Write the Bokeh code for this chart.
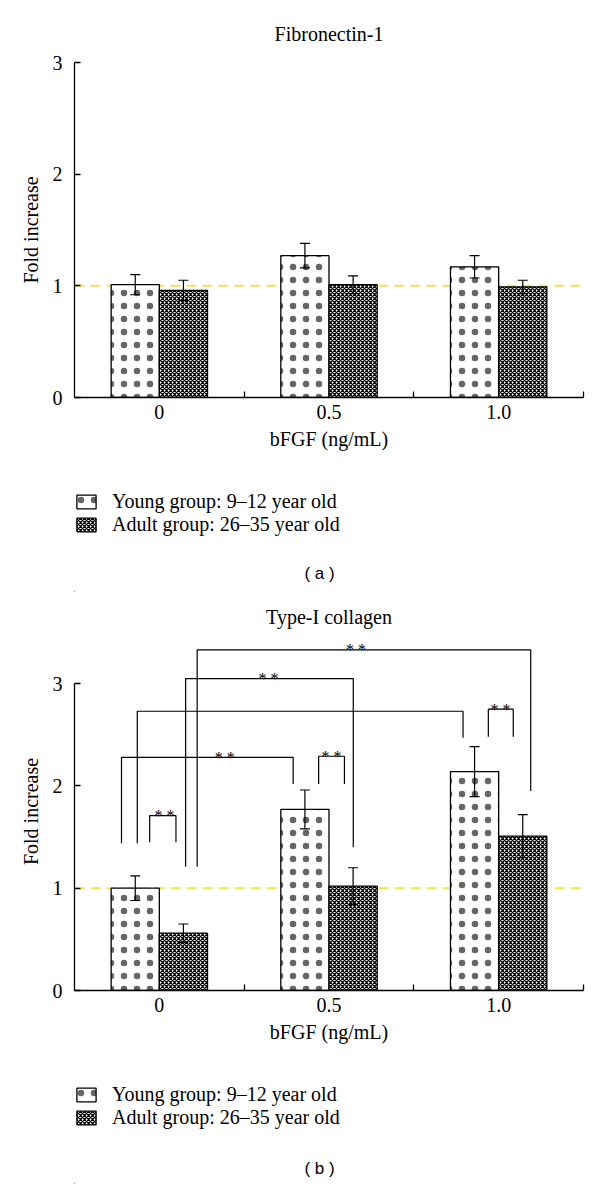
from bokeh.plotting import figure
from bokeh.models import (Range1d, FixedTicker, Span, Whisker, TeeHead, ColumnDataSource,
                          Legend, LegendItem, Label)
from bokeh.layouts import column
from bokeh.embed import file_html
from bokeh.resources import INLINE

# ---------------- data ----------------
doses = ["0", "0.5", "1.0"]
young_label = "Young group: 9–12 year old"
adult_label = "Adult group: 26–35 year old"

fn_young = [1.01, 1.27, 1.17]
fn_young_err = [0.09, 0.11, 0.10]
fn_adult = [0.96, 1.01, 0.99]
fn_adult_err = [0.09, 0.08, 0.06]

col_young = [1.00, 1.77, 2.14]
col_young_err = [0.12, 0.19, 0.245]
col_adult = [0.56, 1.02, 1.51]
col_adult_err = [0.09, 0.18, 0.21]

# significance brackets for Type-I collagen (x in dose-index units, y in fold increase)
br_x0 = [-0.057, -0.223, 0.939, -0.130, 1.939, 0.155, 0.223]
br_x1 = [0.098, 0.789, 1.091, 1.790, 2.086, 1.143, 2.189]
br_top = [1.71, 2.28, 2.29, 2.73, 2.75, 3.05, 3.33]
br_left_end = [1.45, 1.44, 2.02, 1.44, 2.48, 1.21, 1.21]
br_right_end = [1.45, 2.02, 2.02, 2.47, 2.48, 1.40, 1.95]
star_x = [0.03, 0.386, 1.015, 2.011, 0.643, 1.159]
star_y = [1.71, 2.28, 2.29, 2.75, 3.05, 3.33]
star_text = ["* *", "* *", "* *", "* *", "* *", "* *"]

# ---------------- style ----------------
SERIF = "Liberation Serif"
SANS = "Liberation Sans"
BAR_W = 0.284
YELLOW = "#f0e84a"

YOUNG_STYLE = dict(fill_color="white", line_color="black", line_width=1.3,
                   hatch_pattern="dot", hatch_color="black", hatch_alpha=0.6,
                   hatch_scale=13)
ADULT_STYLE = dict(fill_color="white", line_color="black", line_width=1.3,
                   hatch_pattern="diagonal_cross", hatch_color="black", hatch_scale=4,
                   hatch_weight=1.25)
FONT = "20px"
W = 600


def make_src(young, yerr, adult, aerr):
    idx = list(range(len(doses)))
    return ColumnDataSource(dict(
        xy=[i - BAR_W / 2 for i in idx], xa=[i + BAR_W / 2 for i in idx],
        young=young, adult=adult,
        yl=[v - e for v, e in zip(young, yerr)], yu=[v + e for v, e in zip(young, yerr)],
        al=[v - e for v, e in zip(adult, aerr)], au=[v + e for v, e in zip(adult, aerr)],
    ))


def make_chart(title, src, y_end, border_top, height, title_standoff):
    idx = list(range(len(doses)))
    p = figure(width=W, height=height, x_range=Range1d(-0.5, 2.5), y_range=Range1d(0, y_end),
               output_backend="svg", toolbar_location=None, min_border_left=74,
               min_border_right=17, min_border_top=border_top, min_border_bottom=63,
               title=title)
    p.outline_line_color = None
    p.xgrid.visible = False
    p.ygrid.visible = False
    p.title.align = "center"
    p.title.text_font = SERIF
    p.title.text_font_size = FONT
    p.title.text_font_style = "normal"
    p.title.text_color = "black"
    p.title.standoff = title_standoff

    p.add_layout(Span(location=1, dimension="width", line_color=YELLOW, line_dash="10 6",
                      line_width=2, level="underlay"))
    p.vbar(x="xy", top="young", width=BAR_W, source=src, **YOUNG_STYLE)
    p.vbar(x="xa", top="adult", width=BAR_W, source=src, **ADULT_STYLE)
    for base, lo, hi in (("xy", "yl", "yu"), ("xa", "al", "au")):
        p.add_layout(Whisker(source=src, base=base, lower=lo, upper=hi, line_color="black",
                             line_width=1.2, level="overlay",
                             upper_head=TeeHead(size=10, line_color="black", line_width=1.2),
                             lower_head=TeeHead(size=10, line_color="black", line_width=1.2)))

    xa = p.xaxis[0]
    xa.ticker = FixedTicker(ticks=idx, minor_ticks=[i + 0.5 for i in idx])
    xa.major_label_overrides = {i: d for i, d in zip(idx, doses)}
    xa.major_tick_in = 0
    xa.major_tick_out = 0
    xa.minor_tick_in = 6
    xa.minor_tick_out = 0
    xa.minor_tick_line_color = "black"
    xa.major_label_standoff = 7
    xa.axis_label = "bFGF (ng/mL)"
    xa.axis_label_standoff = 6

    ya = p.yaxis[0]
    ya.ticker = FixedTicker(ticks=[0, 1, 2, 3])
    ya.bounds = (0, 3)
    ya.major_tick_in = 6
    ya.major_tick_out = 0
    ya.minor_tick_line_color = None
    ya.major_label_standoff = 12
    ya.axis_label = "Fold increase"
    ya.axis_label_standoff = 8

    for ax in (xa, ya):
        ax.axis_line_color = "black"
        ax.axis_line_width = 1.3
        ax.major_tick_line_color = "black"
        ax.major_tick_line_width = 1.3
        ax.minor_tick_line_width = 1.3
        ax.major_label_text_font = SERIF
        ax.major_label_text_font_size = FONT
        ax.major_label_text_color = "black"
        ax.axis_label_text_font = SERIF
        ax.axis_label_text_font_size = FONT
        ax.axis_label_text_font_style = "normal"
        ax.axis_label_text_color = "black"
    return p


def make_legend_fig(src, height, border_top, tag, tag_y):
    # legend panel: the bar renderers sit outside the visible ranges, only their legend shows
    q = figure(width=W, height=height, x_range=Range1d(10, 11), y_range=Range1d(10, 11),
               x_axis_type=None, y_axis_type=None, output_backend="svg",
               toolbar_location=None, min_border_left=74, min_border_right=17,
               min_border_top=border_top, min_border_bottom=0)
    q.outline_line_color = None
    ry = q.vbar(x="xy", top="young", width=BAR_W, source=src, **YOUNG_STYLE)
    ra = q.vbar(x="xa", top="adult", width=BAR_W, source=src, **ADULT_STYLE)
    leg = Legend(items=[LegendItem(label=young_label, renderers=[ry]),
                        LegendItem(label=adult_label, renderers=[ra])],
                 location="top_left", margin=0, padding=1, spacing=0,
                 glyph_width=24, glyph_height=17, label_standoff=14, label_height=20,
                 label_text_font=SERIF, label_text_font_size=FONT,
                 label_text_color="black",
                 border_line_color=None, background_fill_alpha=0)
    q.add_layout(leg)
    q.add_layout(Label(x=245, y=tag_y, x_units="screen", y_units="screen", text=tag,
                       text_align="center", text_baseline="middle", text_font=SANS,
                       text_font_size="17px", text_color="black"))
    return q


src_a = make_src(fn_young, fn_young_err, fn_adult, fn_adult_err)
src_b = make_src(col_young, col_young_err, col_adult, col_adult_err)

pa = make_chart("Fibronectin-1", src_a, 3.0, 62, 460, 36)
la = make_legend_fig(src_a, 132, 30, "( a )", 19)

pb = make_chart("Type-I collagen", src_b, 3.5, 40, 461, 10)
xs = [[a, a, b, b] for a, b in zip(br_x0, br_x1)]
ys = [[l, t, t, r] for l, t, r in zip(br_left_end, br_top, br_right_end)]
pb.multi_line(xs=xs, ys=ys, line_color="black", line_width=1.2)
pb.text(x=star_x, y=star_y, text=star_text, text_align="center", text_baseline="alphabetic",
        text_font={"value": SERIF}, text_font_size="16px", text_color="black")
lb = make_legend_fig(src_b, 131, 30, "( b )", 16)

layout = column(pa, la, pb, lb, spacing=0)
open("out.html", "w").write(file_html(layout, INLINE))
